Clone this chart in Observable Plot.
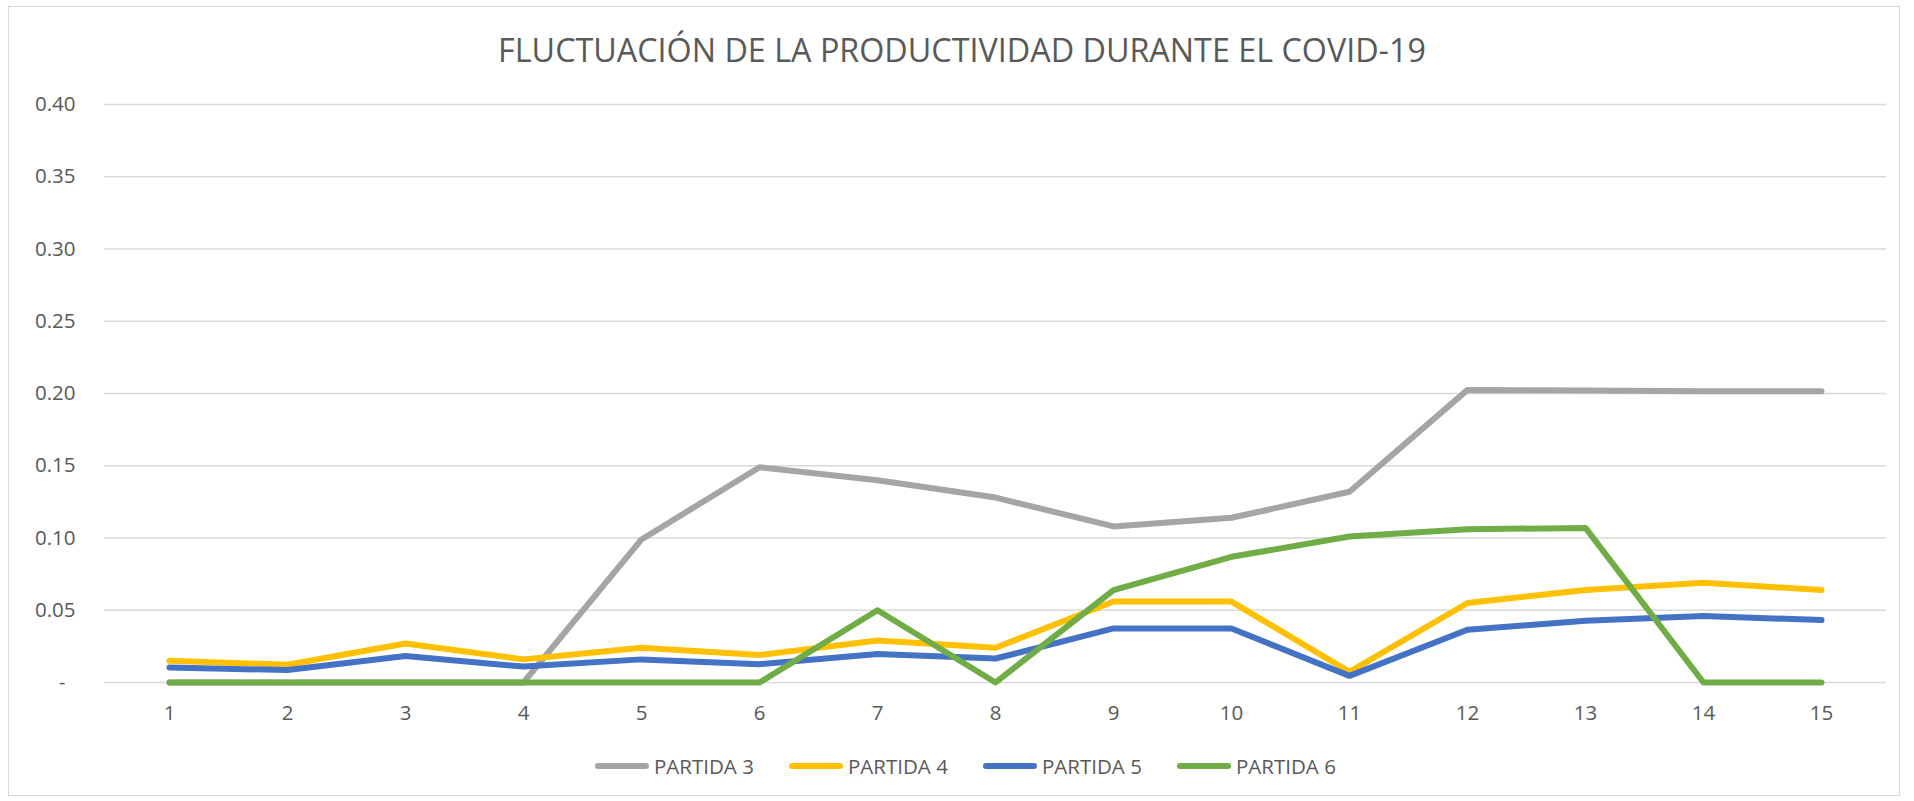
<!DOCTYPE html>
<html><head><meta charset="utf-8">
<script src="https://cdn.jsdelivr.net/npm/d3@7"></script>
<script src="https://cdn.jsdelivr.net/npm/@observablehq/plot@0.6"></script>
<style>
body{margin:0;background:#fff;font-family:"Open Sans",sans-serif;color:#595959;}
#frame{position:absolute;left:8px;top:6px;width:1892px;height:790px;border:1px solid #d9d9d9;box-sizing:border-box}
#title{position:absolute;left:0;top:0;width:1924px;height:98px;line-height:98px;text-align:center;font-size:32.3px;white-space:nowrap}
#chart{position:absolute;left:0;top:80px}
#legend{position:absolute;left:595px;top:750px;height:32px;display:flex;align-items:center}
.item{width:194px;display:flex;align-items:center;font-size:20.5px;white-space:nowrap}
.sw{width:54px;height:6px;border-radius:3px;margin-right:5px;flex:none}
</style>
</head>
<body>
<div id="frame"></div>
<div id="title">FLUCTUACIÓN DE LA PRODUCTIVIDAD DURANTE EL COVID-19</div>
<div id="chart"></div>
<div id="legend"></div>
<script>
const periods = [1,2,3,4,5,6,7,8,9,10,11,12,13,14,15];
const seriesNames = ["PARTIDA 3","PARTIDA 4","PARTIDA 5","PARTIDA 6"];
const seriesColors = ["#A5A5A5","#FFC000","#4472C4","#70AD47"];
const partida3 = [0,0,0,0,0.099,0.149,0.140,0.128,0.108,0.114,0.132,0.2025,0.202,0.2015,0.2015];
const partida4 = [0.015,0.0123,0.027,0.016,0.024,0.019,0.029,0.024,0.056,0.056,0.0074,0.055,0.064,0.069,0.064];
const partida5 = [0.0104,0.0086,0.0183,0.011,0.016,0.0127,0.0197,0.0166,0.0374,0.0374,0.0046,0.0365,0.0427,0.046,0.0432];
const partida6 = [0,0,0,0,0,0,0.050,0,0.064,0.087,0.101,0.106,0.107,0,0];
const yTicks = [0,0.05,0.10,0.15,0.20,0.25,0.30,0.35,0.40];

const allValues = [partida3, partida4, partida5, partida6];
const rows = seriesNames.flatMap((name, s) => periods.map((p, i) => ({period: p, value: allValues[s][i], serie: name})));

const chart = Plot.plot({
  width: 1914, height: 660,
  marginTop: 24, marginBottom: 58, marginLeft: 104, marginRight: 28,
  style: {fontFamily: "Open Sans", fontSize: "20.5px", color: "#595959", background: "transparent", overflow: "visible"},
  x: {type: "point", domain: periods, padding: 0.5, label: null},
  y: {domain: [0, 0.4], label: null},
  color: {domain: seriesNames, range: seriesColors},
  marks: [
    Plot.ruleY(yTicks, {stroke: "#d9d9d9", strokeWidth: 1.3}),
    Plot.axisY({ticks: yTicks, tickSize: 0, tickPadding: 29, label: null,
      tickFormat: d => d === 0 ? "-\u2002" : d.toFixed(2)}),
    Plot.axisX({tickSize: 0, tickPadding: 23, label: null}),
    Plot.line(rows, {x: "period", y: "value", z: "serie", stroke: "serie",
      strokeWidth: 6, strokeLinecap: "round", strokeLinejoin: "round"})
  ]
});
document.getElementById("chart").appendChild(chart);

const legend = document.getElementById("legend");
seriesNames.forEach((n, i) => {
  const it = document.createElement("div");
  it.className = "item";
  const sw = document.createElement("span");
  sw.className = "sw";
  sw.style.background = seriesColors[i];
  const tx = document.createElement("span");
  tx.textContent = n;
  it.appendChild(sw); it.appendChild(tx);
  legend.appendChild(it);
});
</script>
</body></html>
